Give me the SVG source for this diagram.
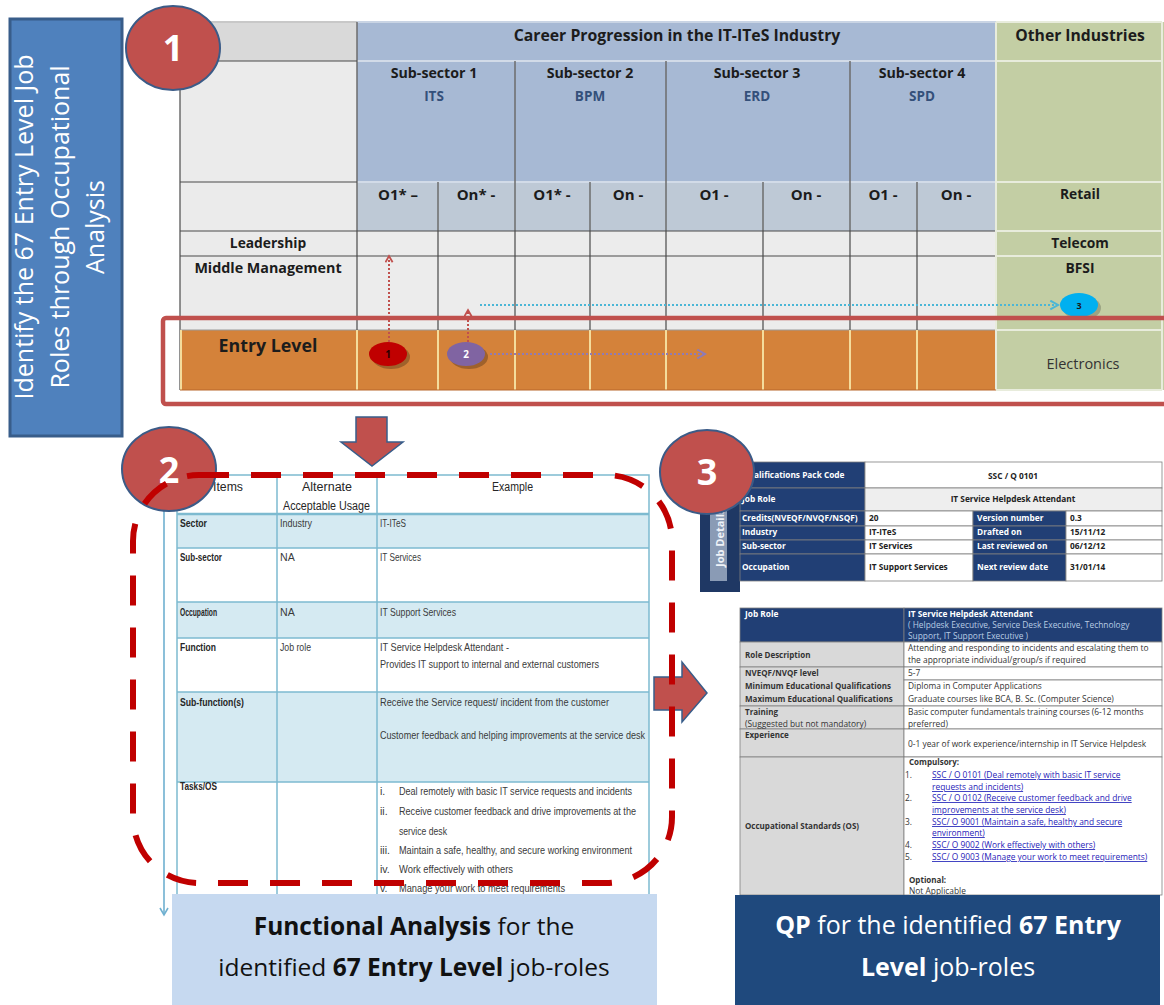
<svg xmlns="http://www.w3.org/2000/svg" width="1164" height="1005" viewBox="0 0 1164 1005">
<style>
.os{font-family:"Open Sans","Liberation Sans",sans-serif}
.b{font-weight:bold}
.hd{font-family:"Open Sans","Liberation Sans",sans-serif;font-weight:bold;fill:#1c1c1c;text-anchor:middle}
.sub{font-family:"Open Sans","Liberation Sans",sans-serif;font-weight:bold;font-size:13.5px;fill:#34507a;text-anchor:middle}
.t2{font-family:"Liberation Sans",sans-serif;font-size:10.6px;fill:#3a3a3a}
.t2b{font-family:"Liberation Sans",sans-serif;font-size:10.6px;font-weight:bold;fill:#262626}
.t2h{font-family:"Liberation Sans",sans-serif;font-size:12.5px;fill:#262626}
.jd{font-family:"Open Sans","Liberation Sans",sans-serif;font-size:8.3px;font-weight:bold;fill:#ffffff}
.jv{font-family:"Open Sans","Liberation Sans",sans-serif;font-size:8.3px;font-weight:bold;fill:#222}
.ql{font-family:"Open Sans","Liberation Sans",sans-serif;font-size:8px;font-weight:bold;fill:#333}
.qv{font-family:"Open Sans","Liberation Sans",sans-serif;font-size:8.4px;fill:#333}
.qh{font-family:"Open Sans","Liberation Sans",sans-serif;font-size:8.4px;fill:#b8cce4}
.lk{font-family:"Open Sans","Liberation Sans",sans-serif;font-size:8.4px;fill:#1f22b8;text-decoration:underline}
.cap{font-family:"Open Sans","Liberation Sans",sans-serif;text-anchor:middle}
.badge{fill:#c0504d;stroke:#3b5b87;stroke-width:2}
.badget{font-family:"Open Sans","Liberation Sans",sans-serif;font-weight:bold;font-size:36px;fill:#ffffff;text-anchor:middle}
.grid{stroke:#4a4a4a;stroke-width:1.2}
.lgt{stroke:#e8ecdc;stroke-width:2}
.ylw{stroke:#f4dc9c;stroke-width:2}
.cell{stroke:#7f7f7f;stroke-width:0.8}
.fa{fill:none;stroke:#7dbad0;stroke-width:1.5}
</style>
<defs>
<marker id="chev-red" viewBox="0 0 10 10" refX="8" refY="5" markerWidth="9" markerHeight="9" markerUnits="userSpaceOnUse" orient="auto"><path d="M1,1 L8,5 L1,9" fill="none" stroke="#c0504d" stroke-width="2"/></marker>
<marker id="chev-purple" viewBox="0 0 10 10" refX="8" refY="5" markerWidth="11" markerHeight="11" markerUnits="userSpaceOnUse" orient="auto"><path d="M1,1 L8,5 L1,9" fill="none" stroke="#8f7bb5" stroke-width="1.8"/></marker>
<marker id="chev-cyan" viewBox="0 0 10 10" refX="8" refY="5" markerWidth="11" markerHeight="11" markerUnits="userSpaceOnUse" orient="auto"><path d="M1,1 L8,5 L1,9" fill="none" stroke="#4bb6d6" stroke-width="1.8"/></marker>
<marker id="chev-blue" viewBox="0 0 10 10" refX="8" refY="5" markerWidth="10" markerHeight="10" markerUnits="userSpaceOnUse" orient="auto"><path d="M1,1 L8,5 L1,9" fill="none" stroke="#6fb0d0" stroke-width="1.6"/></marker>
</defs>
<rect width="1164" height="1005" fill="#ffffff"/>

<g id="left-label">
<rect x="10" y="19" width="112" height="417" fill="#4f81bd" stroke="#385d8a" stroke-width="3"/>
<g class="os" font-size="25" fill="#ffffff" text-anchor="middle">
<text transform="translate(33,227) rotate(-90)">Identify the 67 Entry Level Job</text>
<text transform="translate(69,227) rotate(-90)">Roles through Occupational</text>
<text transform="translate(104,227) rotate(-90)">Analysis</text>
</g>
</g>

<g id="panel1-table">
<rect x="180" y="22" width="177" height="39" fill="#d9d9d9"/>
<rect x="180" y="61" width="177" height="269" fill="#ebebeb"/>
<rect x="357" y="22" width="639" height="160" fill="#a7b9d4"/>
<rect x="357" y="182" width="639" height="49" fill="#bec9d6"/>
<rect x="357" y="231" width="639" height="99" fill="#ececec"/>
<rect x="996" y="22" width="168" height="368" fill="#c3cea4"/>
<rect x="180" y="330" width="816" height="60" fill="#d4823a"/>
<line x1="357" y1="61" x2="996" y2="61" stroke="#d2dbe8" stroke-width="2"/>
<line x1="357" y1="182" x2="996" y2="182" stroke="#d2dbe8" stroke-width="2"/>
<line x1="180" y1="22" x2="357" y2="22" stroke="#c8c8c8" stroke-width="2"/>
<line x1="357" y1="22" x2="996" y2="22" stroke="#c9d4e4" stroke-width="2"/>
<g stroke="#6d6d6d" stroke-width="1.5">
<line x1="515" y1="61" x2="515" y2="182"/><line x1="666" y1="61" x2="666" y2="182"/><line x1="850" y1="61" x2="850" y2="182"/>
<line x1="438" y1="182" x2="438" y2="231"/><line x1="515" y1="182" x2="515" y2="231"/><line x1="590" y1="182" x2="590" y2="231"/><line x1="666" y1="182" x2="666" y2="231"/><line x1="763" y1="182" x2="763" y2="231"/><line x1="850" y1="182" x2="850" y2="231"/><line x1="917" y1="182" x2="917" y2="231"/>
<line x1="357" y1="22" x2="357" y2="231"/>
</g>
<g class="grid">
<line x1="180" y1="61" x2="180" y2="390"/>
<line x1="180" y1="61" x2="357" y2="61"/>
<line x1="180" y1="182" x2="357" y2="182"/>
<line x1="180" y1="231" x2="996" y2="231"/>
<line x1="180" y1="256" x2="996" y2="256"/>
<line x1="180" y1="330" x2="996" y2="330" stroke="#9a9a9a"/>
<line x1="357" y1="231" x2="357" y2="330"/><line x1="438" y1="231" x2="438" y2="330"/><line x1="515" y1="231" x2="515" y2="330"/><line x1="590" y1="231" x2="590" y2="330"/><line x1="666" y1="231" x2="666" y2="330"/><line x1="763" y1="231" x2="763" y2="330"/><line x1="850" y1="231" x2="850" y2="330"/><line x1="917" y1="231" x2="917" y2="330"/>
</g>
<g class="lgt">
<line x1="996" y1="22" x2="996" y2="390"/><line x1="1162" y1="22" x2="1162" y2="390"/>
<line x1="996" y1="22" x2="1162" y2="22"/>
<line x1="996" y1="61" x2="1162" y2="61"/><line x1="996" y1="182" x2="1162" y2="182"/><line x1="996" y1="231" x2="1162" y2="231"/><line x1="996" y1="256" x2="1162" y2="256"/><line x1="996" y1="330" x2="1162" y2="330"/><line x1="996" y1="390" x2="1162" y2="390"/>
</g>
<g class="ylw">
<line x1="181" y1="330" x2="181" y2="390"/><line x1="357" y1="330" x2="357" y2="390"/><line x1="438" y1="330" x2="438" y2="390"/><line x1="515" y1="330" x2="515" y2="390"/><line x1="590" y1="330" x2="590" y2="390"/><line x1="666" y1="330" x2="666" y2="390"/><line x1="763" y1="330" x2="763" y2="390"/><line x1="850" y1="330" x2="850" y2="390"/><line x1="917" y1="330" x2="917" y2="390"/>
</g>
<line x1="180" y1="390" x2="996" y2="390" stroke="#b8672a" stroke-width="1"/>
<text class="hd" x="677" y="41" font-size="15.8">Career Progression in the IT-ITeS Industry</text>
<text class="hd" x="1080" y="41" font-size="15.7">Other Industries</text>
<text class="hd" x="434" y="78" font-size="14.2">Sub-sector 1</text><text class="sub" x="434" y="101">ITS</text>
<text class="hd" x="590" y="78" font-size="14.2">Sub-sector 2</text><text class="sub" x="590" y="101">BPM</text>
<text class="hd" x="757" y="78" font-size="14.2">Sub-sector  3</text><text class="sub" x="757" y="101">ERD</text>
<text class="hd" x="922" y="78" font-size="14.2">Sub-sector  4</text><text class="sub" x="922" y="101">SPD</text>
<g class="hd" font-size="15">
<text x="398" y="200">O1* –</text>
<text x="476" y="200">On* -</text>
<text x="552" y="200">O1* -</text>
<text x="628" y="200">On -</text>
<text x="714" y="200">O1 -</text>
<text x="806" y="200">On -</text>
<text x="883" y="200">O1 -</text>
<text x="956" y="200">On -</text>
</g>
<g class="hd" font-size="13.8">
<text x="1080" y="199">Retail</text>
<text x="268" y="248">Leadership</text>
<text x="1080" y="248">Telecom</text>
<text x="1080" y="273">BFSI</text>
</g>
<text class="hd" x="268" y="273" font-size="14.3">Middle Management</text>
<text class="hd" x="268" y="352" font-size="17.8">Entry Level</text>
<text class="os" x="1083" y="369" font-size="14.5" fill="#333" text-anchor="middle">Electronics</text>
</g>

<g id="connectors">
<path d="M389,342 V256" stroke="#c0504d" stroke-width="2" stroke-dasharray="2 2" fill="none" marker-end="url(#chev-red)"/>
<path d="M468,342 V310" stroke="#c0504d" stroke-width="2" stroke-dasharray="2 2" fill="none" marker-end="url(#chev-red)"/>
<path d="M490,354 H705" stroke="#8f7bb5" stroke-width="2" stroke-dasharray="2 2" fill="none" marker-end="url(#chev-purple)"/>
<path d="M480,305 H1058" stroke="#4bb6d6" stroke-width="2" stroke-dasharray="2 2" fill="none" marker-end="url(#chev-cyan)"/>
<path d="M164,475 V915" stroke="#6fb0d0" stroke-width="1.6" fill="none" marker-end="url(#chev-blue)"/>
</g>

<g id="marker-1">
<ellipse cx="391" cy="357" rx="19" ry="12" fill="#000" opacity="0.25"/>
<ellipse cx="388" cy="354" rx="19" ry="12" fill="#c00000"/>
<text class="os b" x="388" y="358" font-size="10" fill="#2a0000" text-anchor="middle">1</text>
</g>
<g id="marker-2">
<ellipse cx="469" cy="357" rx="19" ry="12" fill="#000" opacity="0.25"/>
<ellipse cx="466" cy="354" rx="19" ry="12" fill="#8064a2"/>
<text class="os b" x="466" y="358" font-size="10" fill="#ffffff" text-anchor="middle">2</text>
</g>
<g id="marker-3">
<ellipse cx="1082" cy="308" rx="19" ry="12" fill="#000" opacity="0.2"/>
<ellipse cx="1079" cy="305" rx="19" ry="12" fill="#00b0f0"/>
<text class="os b" x="1079" y="309" font-size="9" fill="#1a1a1a" text-anchor="middle">3</text>
</g>

<rect id="entry-highlight" x="163" y="318" width="1020" height="86" rx="3" fill="none" stroke="#c0504d" stroke-width="4.5"/>

<g id="panel2-table">
<rect x="177" y="514" width="472" height="34" fill="#d5eaf2"/>
<rect x="177" y="602" width="472" height="36" fill="#d5eaf2"/>
<rect x="177" y="692" width="472" height="90" fill="#d5eaf2"/>
<rect x="177" y="475" width="472" height="420" class="fa"/>
<g class="fa">
<line x1="177" y1="514" x2="649" y2="514" stroke-width="2.5"/>
<line x1="177" y1="548" x2="649" y2="548"/>
<line x1="177" y1="602" x2="649" y2="602"/>
<line x1="177" y1="638" x2="649" y2="638"/>
<line x1="177" y1="692" x2="649" y2="692"/>
<line x1="177" y1="782" x2="649" y2="782"/>
<line x1="277" y1="475" x2="277" y2="895"/>
<line x1="377" y1="475" x2="377" y2="895"/>
</g>
<text class="t2h" x="213" y="491" textLength="30" lengthAdjust="spacingAndGlyphs">Items</text>
<text class="t2h" x="302" y="491" textLength="50" lengthAdjust="spacingAndGlyphs">Alternate</text>
<text class="t2h" x="283" y="510" textLength="87" lengthAdjust="spacingAndGlyphs">Acceptable Usage</text>
<text class="t2h" x="492" y="491" textLength="41" lengthAdjust="spacingAndGlyphs">Example</text>
<text class="t2b" x="180" y="527" textLength="27" lengthAdjust="spacingAndGlyphs">Sector</text><text class="t2" x="280" y="527" textLength="32" lengthAdjust="spacingAndGlyphs">Industry</text><text class="t2" x="380" y="527" textLength="26" lengthAdjust="spacingAndGlyphs">IT-ITeS</text>
<text class="t2b" x="180" y="561" textLength="42" lengthAdjust="spacingAndGlyphs">Sub-sector</text><text class="t2" x="280" y="561">NA</text><text class="t2" x="380" y="561" textLength="41" lengthAdjust="spacingAndGlyphs">IT Services</text>
<text class="t2b" x="180" y="616" textLength="37" lengthAdjust="spacingAndGlyphs">Occupation</text><text class="t2" x="280" y="616">NA</text><text class="t2" x="380" y="616" textLength="76" lengthAdjust="spacingAndGlyphs">IT Support Services</text>
<text class="t2b" x="180" y="651" textLength="36" lengthAdjust="spacingAndGlyphs">Function</text><text class="t2" x="280" y="651" textLength="31" lengthAdjust="spacingAndGlyphs">Job role</text>
<text class="t2" x="380" y="651" textLength="129" lengthAdjust="spacingAndGlyphs">IT Service Helpdesk Attendant -</text>
<text class="t2" x="380" y="668" textLength="219" lengthAdjust="spacingAndGlyphs">Provides IT support to internal and external customers</text>
<text class="t2b" x="180" y="706" textLength="64" lengthAdjust="spacingAndGlyphs">Sub-function(s)</text>
<text class="t2" x="380" y="706" textLength="229" lengthAdjust="spacingAndGlyphs">Receive the Service request/  incident from the customer</text>
<text class="t2" x="380" y="739" textLength="265" lengthAdjust="spacingAndGlyphs">Customer feedback and helping improvements at the service desk</text>
<text class="t2b" x="180" y="790" textLength="37" lengthAdjust="spacingAndGlyphs">Tasks/OS</text>
<text class="t2" x="380" y="795">i.</text><text class="t2" x="399" y="795" textLength="233" lengthAdjust="spacingAndGlyphs">Deal remotely with basic IT service requests and incidents</text>
<text class="t2" x="380" y="815">ii.</text><text class="t2" x="399" y="815" textLength="237" lengthAdjust="spacingAndGlyphs">Receive customer feedback and drive improvements at the</text>
<text class="t2" x="399" y="835" textLength="48" lengthAdjust="spacingAndGlyphs">service desk</text>
<text class="t2" x="380" y="854">iii.</text><text class="t2" x="399" y="854" textLength="233" lengthAdjust="spacingAndGlyphs">Maintain a safe, healthy, and secure working environment</text>
<text class="t2" x="380" y="873">iv.</text><text class="t2" x="399" y="873" textLength="114" lengthAdjust="spacingAndGlyphs">Work effectively with others</text>
<text class="t2" x="380" y="892">v.</text><text class="t2" x="399" y="892" textLength="166" lengthAdjust="spacingAndGlyphs">Manage your work to meet requirements</text>
</g>

<g id="panel3-jobdetails">
<rect x="700" y="478" width="40" height="114" fill="#1f3864"/>
<rect x="710" y="505" width="17" height="76" fill="#8a9bb5"/>
<text class="os b" transform="translate(724,567) rotate(-90)" font-size="11" fill="#eef2f8">Job Details</text>
<rect class="cell" x="740" y="462" width="125" height="26" fill="#213f75"/>
<rect class="cell" x="865" y="462" width="297" height="26" fill="#ffffff"/>
<rect class="cell" x="740" y="488" width="125" height="23" fill="#213f75"/>
<rect class="cell" x="865" y="488" width="297" height="23" fill="#eeeeee"/>
<rect class="cell" x="740" y="511" width="125" height="15" fill="#213f75"/><rect class="cell" x="865" y="511" width="108" height="15" fill="#fff"/><rect class="cell" x="973" y="511" width="93" height="15" fill="#213f75"/><rect class="cell" x="1066" y="511" width="96" height="15" fill="#fff"/>
<rect class="cell" x="740" y="526" width="125" height="14" fill="#213f75"/><rect class="cell" x="865" y="526" width="108" height="14" fill="#fff"/><rect class="cell" x="973" y="526" width="93" height="14" fill="#213f75"/><rect class="cell" x="1066" y="526" width="96" height="14" fill="#fff"/>
<rect class="cell" x="740" y="540" width="125" height="14" fill="#213f75"/><rect class="cell" x="865" y="540" width="108" height="14" fill="#fff"/><rect class="cell" x="973" y="540" width="93" height="14" fill="#213f75"/><rect class="cell" x="1066" y="540" width="96" height="14" fill="#fff"/>
<rect class="cell" x="740" y="554" width="125" height="27" fill="#213f75"/><rect class="cell" x="865" y="554" width="108" height="27" fill="#fff"/><rect class="cell" x="973" y="554" width="93" height="27" fill="#213f75"/><rect class="cell" x="1066" y="554" width="96" height="27" fill="#fff"/>
<text class="jd" x="742" y="478">Qualifications Pack Code</text>
<text class="jv" x="1013" y="479" text-anchor="middle">SSC / Q 0101</text>
<text class="jd" x="742" y="502">Job Role</text>
<text class="jv" x="1013" y="502" text-anchor="middle">IT Service Helpdesk Attendant</text>
<text class="jd" x="742" y="521">Credits(NVEQF/NVQF/NSQF)</text><text class="jv" x="869" y="521">20</text><text class="jd" x="977" y="521">Version number</text><text class="jv" x="1070" y="521">0.3</text>
<text class="jd" x="742" y="535">Industry</text><text class="jv" x="869" y="535">IT-ITeS</text><text class="jd" x="977" y="535">Drafted on</text><text class="jv" x="1070" y="535">15/11/12</text>
<text class="jd" x="742" y="549">Sub-sector</text><text class="jv" x="869" y="549">IT Services</text><text class="jd" x="977" y="549">Last reviewed on</text><text class="jv" x="1070" y="549">06/12/12</text>
<text class="jd" x="742" y="570">Occupation</text><text class="jv" x="869" y="570">IT Support Services</text><text class="jd" x="977" y="570">Next review date</text><text class="jv" x="1070" y="570">31/01/14</text>
</g>

<g id="panel3-qp">
<rect class="cell" x="740" y="608" width="164" height="34" fill="#213f75"/>
<rect class="cell" x="904" y="608" width="258" height="34" fill="#213f75"/>
<rect class="cell" x="740" y="642" width="164" height="25" fill="#d9d9d9"/><rect class="cell" x="904" y="642" width="258" height="25" fill="#fff"/>
<rect class="cell" x="740" y="667" width="164" height="39" fill="#d9d9d9"/><rect class="cell" x="904" y="667" width="258" height="13" fill="#fff"/><rect class="cell" x="904" y="680" width="258" height="26" fill="#fff"/>
<rect class="cell" x="740" y="706" width="164" height="23" fill="#d9d9d9"/><rect class="cell" x="904" y="706" width="258" height="23" fill="#fff"/>
<rect class="cell" x="740" y="729" width="164" height="28" fill="#d9d9d9"/><rect class="cell" x="904" y="729" width="258" height="28" fill="#fff"/>
<rect class="cell" x="740" y="757" width="164" height="138" fill="#d9d9d9"/><rect class="cell" x="904" y="757" width="258" height="138" fill="#fff"/>
<text class="jd" x="745" y="617">Job Role</text>
<text class="jd" x="908" y="617">IT Service Helpdesk Attendant</text>
<text class="qh" x="908" y="628">( Helpdesk Executive, Service Desk Executive, Technology</text>
<text class="qh" x="908" y="639">Support, IT Support Executive )</text>
<text class="ql" x="745" y="658">Role Description</text>
<text class="qv" x="908" y="651">Attending and responding to incidents and escalating them to</text>
<text class="qv" x="908" y="663">the appropriate  individual/group/s if required</text>
<text class="ql" x="745" y="676">NVEQF/NVQF level</text><text class="qv" x="908" y="676">5-7</text>
<text class="ql" x="745" y="689">Minimum Educational Qualifications</text><text class="qv" x="908" y="689">Diploma in Computer Applications</text>
<text class="ql" x="745" y="702">Maximum Educational Qualifications</text><text class="qv" x="908" y="702">Graduate courses like BCA, B. Sc. (Computer Science)</text>
<text class="ql" x="745" y="715">Training</text><text class="qv" x="745" y="727">(Suggested but not mandatory)</text>
<text class="qv" x="908" y="715">Basic computer fundamentals training courses (6-12 months</text><text class="qv" x="908" y="727">preferred)</text>
<text class="ql" x="745" y="738">Experience</text>
<text class="qv" x="908" y="747">0-1 year of work experience/internship in IT Service Helpdesk</text>
<text class="ql" x="745" y="829">Occupational Standards (OS)</text>
<text class="ql" x="909" y="765">Compulsory:</text>
<text class="qv" x="905" y="778">1.</text><text class="lk" x="932" y="778">SSC / O 0101 (Deal remotely with basic IT service</text>
<text class="lk" x="932" y="790">requests and incidents)</text>
<text class="qv" x="905" y="801">2.</text><text class="lk" x="932" y="801">SSC / O 0102 (Receive customer feedback and drive</text>
<text class="lk" x="932" y="813">improvements at the service desk)</text>
<text class="qv" x="905" y="825">3.</text><text class="lk" x="932" y="825">SSC/ O 9001 (Maintain a safe, healthy and secure</text>
<text class="lk" x="932" y="836">environment)</text>
<text class="qv" x="905" y="848">4.</text><text class="lk" x="932" y="848">SSC/ O 9002 (Work effectively with others)</text>
<text class="qv" x="905" y="860">5.</text><text class="lk" x="932" y="860">SSC/ O 9003 (Manage your work to meet requirements)</text>
<text class="ql" x="909" y="883">Optional:</text>
<text class="qv" x="909" y="894">Not Applicable</text>
</g>

<g id="block-arrows">
<path d="M356,417 H387 V442 H403 L372,466 L341,442 H356 Z" fill="#c0504d" stroke="#385d8a" stroke-width="1.5"/>
<path d="M654,677 H682 V662 L707,693 L682,722 V710 H654 Z" fill="#c0504d" stroke="#385d8a" stroke-width="1.5"/>
</g>

<g id="badge-1"><ellipse class="badge" cx="173" cy="48" rx="47" ry="42"/><text class="badget" x="173" y="61">1</text></g>
<g id="badge-2"><ellipse class="badge" cx="169" cy="469" rx="47" ry="42"/><text class="badget" x="169" y="483">2</text></g>
<g id="badge-3"><ellipse class="badge" cx="707" cy="472" rx="47" ry="42"/><text class="badget" x="707" y="485">3</text></g>

<rect id="fa-boundary" x="133" y="475" width="539" height="408" rx="66" fill="none" stroke="#c00000" stroke-width="6" stroke-dasharray="30 22"/>

<g id="caption-fa">
<rect x="172" y="894" width="485" height="111" fill="#c6d9f0"/>
<text class="cap" x="414" y="935" font-size="24.5" fill="#111"><tspan font-weight="bold">Functional Analysis</tspan> for the</text>
<text class="cap" x="414" y="976" font-size="24.5" fill="#111">identified <tspan font-weight="bold">67 Entry Level</tspan> job-roles</text>
</g>
<g id="caption-qp">
<rect x="735" y="895" width="425" height="110" fill="#1f497d"/>
<text class="cap" x="948" y="934" font-size="25" fill="#ffffff"><tspan font-weight="bold">QP</tspan> for the identified <tspan font-weight="bold">67 Entry</tspan></text>
<text class="cap" x="948" y="976" font-size="25" fill="#ffffff"><tspan font-weight="bold">Level</tspan> job-roles</text>
</g>
</svg>
